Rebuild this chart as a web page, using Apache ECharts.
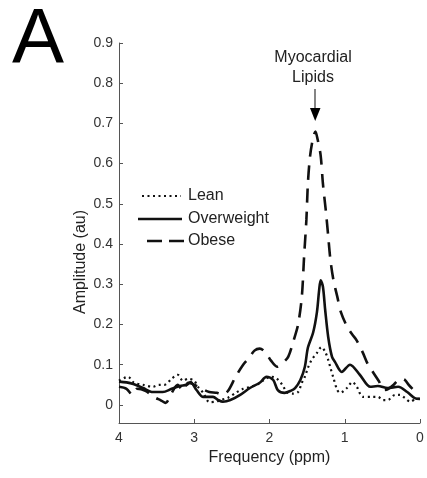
<!DOCTYPE html>
<html>
<head>
<meta charset="utf-8">
<script src="https://cdn.jsdelivr.net/npm/echarts@6/dist/echarts.min.js"></script>
<style>
html,body{margin:0;padding:0;background:#fff;}
#chart{width:427px;height:478px;}
</style>
</head>
<body>
<div id="chart"></div>
<script>
// ---- data ----
const seriesNames = ['Lean', 'Overweight', 'Obese'];
const yTickValues = [0, 0.1, 0.2, 0.3, 0.4, 0.5, 0.6, 0.7, 0.8, 0.9];
const xTickValues = [0, 1, 2, 3, 4];

const leanPpm = [4.0, 3.88, 3.8, 3.68, 3.55, 3.47, 3.4, 3.3, 3.22, 3.15, 3.08, 3.0, 2.95, 2.88, 2.8, 2.72, 2.65, 2.55, 2.45, 2.35, 2.25, 2.15, 2.05, 1.97, 1.9, 1.83, 1.77, 1.69, 1.62, 1.57, 1.53, 1.49, 1.44, 1.37, 1.31, 1.26, 1.22, 1.19, 1.15, 1.1, 1.06, 0.97, 0.9, 0.84, 0.76, 0.64, 0.56, 0.49, 0.43, 0.33, 0.27, 0.2, 0.13, 0.05, 0.0];
const leanAmp = [0.06, 0.07, 0.055, 0.05, 0.045, 0.05, 0.05, 0.065, 0.075, 0.06, 0.065, 0.06, 0.045, 0.03, 0.007, 0.008, 0.012, 0.018, 0.03, 0.04, 0.045, 0.052, 0.065, 0.07, 0.065, 0.05, 0.032, 0.028, 0.032, 0.055, 0.07, 0.092, 0.112, 0.129, 0.144, 0.132, 0.112, 0.092, 0.067, 0.037, 0.03, 0.042, 0.057, 0.045, 0.02, 0.02, 0.02, 0.012, 0.012, 0.025, 0.025, 0.017, 0.008, 0.015, 0.015];

const overPpm = [4.0, 3.9, 3.81, 3.68, 3.55, 3.42, 3.3, 3.19, 3.1, 3.05, 2.97, 2.88, 2.75, 2.68, 2.62, 2.52, 2.39, 2.26, 2.13, 2.04, 1.95, 1.89, 1.8, 1.72, 1.66, 1.59, 1.53, 1.49, 1.42, 1.37, 1.34, 1.32, 1.29, 1.26, 1.22, 1.17, 1.13, 1.04, 0.93, 0.8, 0.66, 0.56, 0.43, 0.29, 0.17, 0.07, 0.0];
const overAmp = [0.058, 0.056, 0.052, 0.042, 0.032, 0.032, 0.04, 0.047, 0.05, 0.057, 0.037, 0.02, 0.02, 0.012, 0.008, 0.012, 0.025, 0.042, 0.055, 0.07, 0.062, 0.037, 0.03, 0.035, 0.042, 0.062, 0.095, 0.142, 0.18, 0.23, 0.286, 0.31, 0.294, 0.236, 0.169, 0.12, 0.107, 0.082, 0.1, 0.075, 0.045, 0.047, 0.042, 0.045, 0.032, 0.017, 0.015];

const obesePpm = [4.0, 3.9, 3.82, 3.76, 3.65, 3.52, 3.45, 3.38, 3.3, 3.22, 3.15, 3.08, 3.0, 2.9, 2.8, 2.7, 2.62, 2.55, 2.45, 2.35, 2.28, 2.2, 2.13, 2.05, 1.98, 1.9, 1.82, 1.75, 1.68, 1.62, 1.57, 1.54, 1.51, 1.49, 1.46, 1.42, 1.39, 1.36, 1.32, 1.29, 1.25, 1.22, 1.19, 1.15, 1.1, 1.05, 0.97, 0.9, 0.84, 0.76, 0.69, 0.62, 0.55, 0.47, 0.42, 0.35, 0.3, 0.25, 0.2, 0.15, 0.1];
const obeseAmp = [0.045, 0.04, 0.025, 0.04, 0.035, 0.018, 0.012, 0.005, 0.03, 0.05, 0.035, 0.055, 0.05, 0.04, 0.032, 0.03, 0.025, 0.035, 0.07, 0.1, 0.115, 0.135, 0.14, 0.13, 0.11, 0.095, 0.105, 0.12, 0.16, 0.2, 0.27, 0.37, 0.46, 0.55, 0.62, 0.665, 0.68, 0.66, 0.62, 0.55, 0.48, 0.42, 0.36, 0.31, 0.27, 0.23, 0.195, 0.175, 0.16, 0.13, 0.1, 0.08, 0.06, 0.037, 0.04, 0.05, 0.06, 0.065, 0.062, 0.05, 0.04];

const annotationLines = ['Myocardial', 'Lipids'];
const panelLabel = 'A';
const xAxisTitle = 'Frequency (ppm)';
const yAxisTitle = 'Amplitude (au)';

// ---- build ----
function pairs(xs, ys) { return xs.map((x, i) => [x, ys[i]]); }

const FONT = '"Liberation Sans", Arial, sans-serif';
const INK = '#111';
const lineStyles = [
  { width: 2.2, dash: [2, 3.5] },
  { width: 2.6, dash: null },
  { width: 2.6, dash: [14, 9] }
];
const legendDash = [[2, 3.5], null, [15, 7]];
const legendX = [[142, 181], [138, 182], [147, 184]];
const legendY = [196, 219, 241];

const chart = echarts.init(document.getElementById('chart'), null, { renderer: 'canvas' });

const seriesData = [pairs(leanPpm, leanAmp), pairs(overPpm, overAmp), pairs(obesePpm, obeseAmp)];

const legendGraphics = [];
seriesNames.forEach((name, i) => {
  legendGraphics.push({
    type: 'line',
    shape: { x1: legendX[i][0], y1: legendY[i], x2: legendX[i][1], y2: legendY[i] },
    style: { stroke: INK, lineWidth: lineStyles[i].width, lineDash: legendDash[i] || null, lineCap: 'butt' }
  });
  legendGraphics.push({
    type: 'text', x: 188, y: legendY[i],
    style: { text: name, fontFamily: FONT, fontSize: 16, fill: '#222', align: 'left', verticalAlign: 'middle' }
  });
});

const option = {
  backgroundColor: '#ffffff',
  animation: false,
  grid: { left: 119, right: 7, top: 43, bottom: 55, containLabel: false },
  xAxis: {
    type: 'value', inverse: true, min: 0, max: 4, interval: 1,
    name: xAxisTitle, nameLocation: 'middle', nameGap: 24,
    nameTextStyle: { fontFamily: FONT, fontSize: 16, color: '#222' },
    axisLine: { show: true, onZero: false, lineStyle: { color: '#555', width: 1 } },
    axisTick: { show: true, inside: true, length: 4, lineStyle: { color: '#555' } },
    axisLabel: { fontFamily: FONT, fontSize: 14, color: '#333', margin: 8 },
    splitLine: { show: false }
  },
  yAxis: {
    type: 'value', min: -0.045, max: 0.9, position: 'left',
    axisLine: { show: true, onZero: false, lineStyle: { color: '#555', width: 1 } },
    axisTick: { show: true, inside: true, length: 4, customValues: yTickValues, lineStyle: { color: '#555' } },
    axisLabel: { fontFamily: FONT, fontSize: 14, color: '#333', margin: 6, customValues: yTickValues,
      formatter: v => (Math.round(v * 10) / 10).toString() },
    splitLine: { show: false }
  },
  series: seriesNames.map((name, i) => ({
    name: name, type: 'line', data: seriesData[i],
    symbol: 'none', smooth: 0.3,
    lineStyle: { color: INK, width: lineStyles[i].width, type: lineStyles[i].dash || 'solid', cap: 'butt' },
    itemStyle: { color: INK }
  })),
  graphic: [
    { type: 'text', left: 12, top: 2, style: { text: panelLabel, fontFamily: FONT, fontSize: 78, fill: '#000' } },
    { type: 'text', x: 81, y: 262, rotation: Math.PI / 2,
      style: { text: yAxisTitle, fontFamily: FONT, fontSize: 16, fill: '#222', align: 'center', verticalAlign: 'middle' } },
    { type: 'text', x: 313, y: 58,
      style: { text: annotationLines[0], fontFamily: FONT, fontSize: 16, fill: '#222', align: 'center', verticalAlign: 'middle' } },
    { type: 'text', x: 313, y: 78,
      style: { text: annotationLines[1], fontFamily: FONT, fontSize: 16, fill: '#222', align: 'center', verticalAlign: 'middle' } },
    { type: 'line', shape: { x1: 315, y1: 89, x2: 315, y2: 110 }, style: { stroke: '#333', lineWidth: 1.2 } },
    { type: 'polygon', shape: { points: [[310, 108], [320.5, 108], [315.2, 121]] }, style: { fill: '#000' } }
  ].concat(legendGraphics)
};
chart.setOption(option);
</script>
</body>
</html>
